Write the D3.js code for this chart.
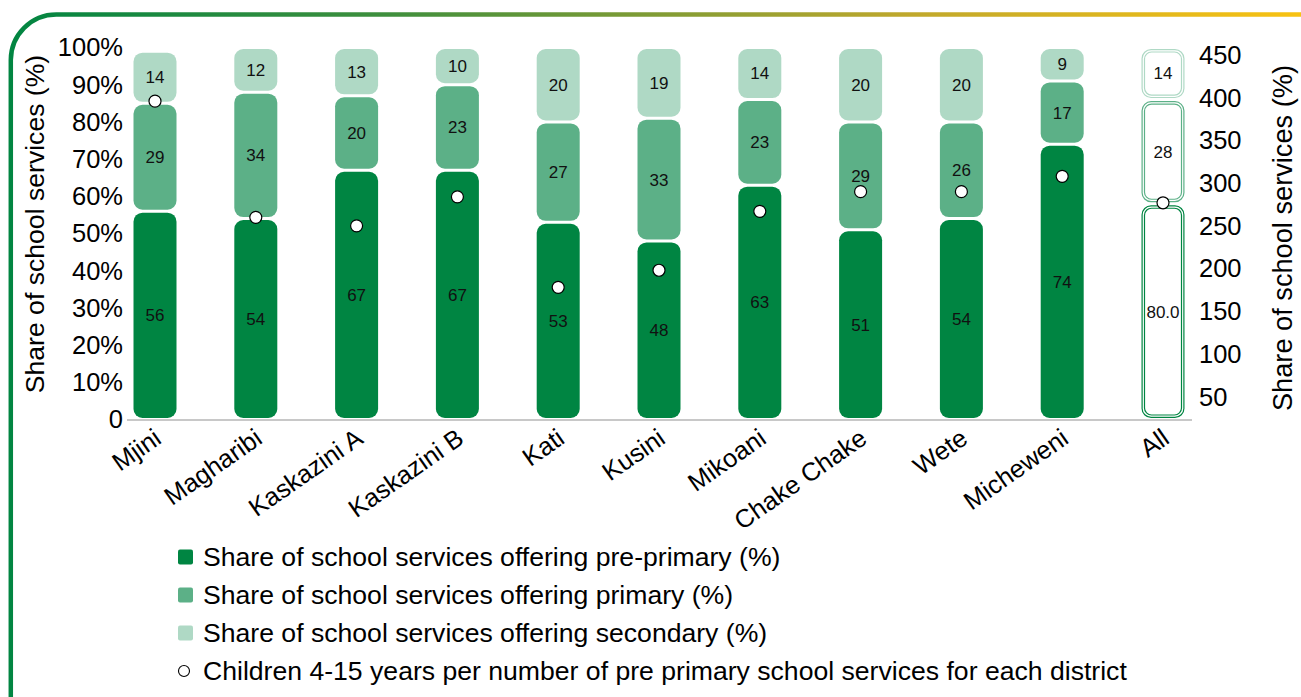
<!DOCTYPE html>
<html>
<head>
<meta charset="utf-8">
<script src="https://cdn.jsdelivr.net/npm/d3@7"></script>
<style>
  html, body { margin: 0; padding: 0; background: #fff; }
  svg { display: block; font-family: "Liberation Sans", Arial, sans-serif; }
</style>
</head>
<body>
<svg id="chart" width="1301" height="697"></svg>
<script>
// Districts along the x axis
const districts = ["Mjini", "Magharibi", "Kaskazini A", "Kaskazini B", "Kati",
                   "Kusini", "Mikoani", "Chake Chake", "Wete", "Micheweni"];

// Share of school services (%) per district
const prePrimary = [56, 54, 67, 67, 53, 48, 63, 51, 54, 74];
const primary    = [29, 34, 20, 23, 27, 33, 23, 29, 26, 17];
const secondary  = [14, 12, 13, 10, 20, 19, 14, 20, 20, 9];

// Children 4-15 years per pre-primary school service (right axis)
const childrenPerService = [396, 260, 250, 284, 178, 198, 267, 290, 290, 308];

// The "All" column
const allCategory = "All";
const allShares = [58, 28, 14];
const allLabels = ["80.0", "28", "14"];
const allChildrenPerService = 277;

// Axis ticks
const leftTicks = [0, 10, 20, 30, 40, 50, 60, 70, 80, 90, 100];
const rightTicks = [50, 100, 150, 200, 250, 300, 350, 400, 450];

const seriesNames = [
  "Share of school services offering pre-primary (%)",
  "Share of school services offering primary (%)",
  "Share of school services offering secondary (%)"
];
const dotName = "Children 4-15 years per number of pre primary school services for each district";
const axisTitle = "Share of school services (%)";

const colors = ["#008542", "#5cb087", "#afd9c5"];

const svg = d3.select("#chart");

// ---- decorative frame ----
const defs = svg.append("defs");
const grad = defs.append("linearGradient")
  .attr("id", "frameGrad").attr("gradientUnits", "userSpaceOnUse")
  .attr("x1", 0).attr("y1", 0).attr("x2", 1301).attr("y2", 0);
grad.append("stop").attr("offset", 0).attr("stop-color", "#008542");
grad.append("stop").attr("offset", 0.3).attr("stop-color", "#3f8f3d");
grad.append("stop").attr("offset", 0.7).attr("stop-color", "#c0a82c");
grad.append("stop").attr("offset", 1).attr("stop-color", "#f8c212");

svg.append("path")
  .attr("d", "M10.8,700 L10.8,60 A45.5,45.5 0 0 1 56.3,14.5 L1305,14.5")
  .attr("fill", "none")
  .attr("stroke", "url(#frameGrad)")
  .attr("stroke-width", 4.5);

// ---- scales ----
const categories = districts.concat([allCategory]);
const x = d3.scalePoint().domain(categories).range([104.6, 1213.4]).padding(0.5);
const y = d3.scaleLinear().domain([0, 100]).range([419.5, 47.5]);
const yRight = d3.scaleLinear().domain([23.3, 458.8]).range([419.5, 47.5]);
const barW = 43;
const inset = 1.5;

// ---- baseline ----
svg.append("line")
  .attr("x1", 127).attr("x2", 1192)
  .attr("y1", 420).attr("y2", 420)
  .attr("stroke", "#c8c8c8").attr("stroke-width", 2);

// ---- stacked district bars ----
const stacked = districts.map((d, i) => {
  const vals = [prePrimary[i], primary[i], secondary[i]];
  let base = 0;
  return vals.map((v, k) => {
    const seg = { district: d, k, v, y0: base, y1: base + v };
    base += v;
    return seg;
  });
}).flat();

const bars = svg.append("g");
bars.selectAll("rect").data(stacked).join("rect")
  .attr("x", d => x(d.district) - barW / 2)
  .attr("width", barW)
  .attr("y", d => y(d.y1) + inset)
  .attr("height", d => y(d.y0) - y(d.y1) - 2 * inset)
  .attr("rx", 9).attr("ry", 9)
  .attr("fill", d => colors[d.k]);

bars.selectAll("text").data(stacked).join("text")
  .attr("x", d => x(d.district))
  .attr("y", d => (y(d.y0) + y(d.y1)) / 2)
  .attr("dy", "0.35em")
  .attr("text-anchor", "middle")
  .attr("font-size", 17)
  .attr("fill", "#111")
  .text(d => d.v);

// ---- "All" column: outlined segments ----
let allBase = 0;
const allSegs = allShares.map((v, k) => {
  const s = { k, v, label: allLabels[k], y0: allBase, y1: allBase + v };
  allBase += v;
  return s;
});
const allG = svg.append("g");
allSegs.forEach(s => {
  const top = y(s.y1) + inset, h = y(s.y0) - y(s.y1) - 2 * inset;
  const x0 = x(allCategory) - barW / 2;
  allG.append("rect")
    .attr("x", x0 + 0.6).attr("y", top + 0.6)
    .attr("width", barW - 1.2).attr("height", h - 1.2)
    .attr("rx", 9).attr("fill", "#fff")
    .attr("stroke", colors[s.k]).attr("stroke-width", 1.2);
  allG.append("rect")
    .attr("x", x0 + 3).attr("y", top + 3)
    .attr("width", barW - 6).attr("height", h - 6)
    .attr("rx", 7).attr("fill", "none")
    .attr("stroke", colors[s.k]).attr("stroke-width", 1.2);
  allG.append("text")
    .attr("x", x(allCategory))
    .attr("y", (y(s.y0) + y(s.y1)) / 2)
    .attr("dy", "0.35em")
    .attr("text-anchor", "middle")
    .attr("font-size", 17)
    .attr("fill", "#111")
    .text(s.label);
});

// ---- dots on the right axis ----
const dots = districts.map((d, i) => ({ c: d, v: childrenPerService[i] }))
  .concat([{ c: allCategory, v: allChildrenPerService }]);
svg.append("g").selectAll("circle").data(dots).join("circle")
  .attr("cx", d => x(d.c))
  .attr("cy", d => yRight(d.v))
  .attr("r", 6)
  .attr("fill", "#fff")
  .attr("stroke", "#000")
  .attr("stroke-width", 1.2);

// ---- left axis ----
svg.append("g").selectAll("text").data(leftTicks).join("text")
  .attr("x", 123).attr("y", d => y(d))
  .attr("dy", "0.35em")
  .attr("text-anchor", "end")
  .attr("font-size", 25.5)
  .attr("fill", "#000")
  .text(d => d === 0 ? "0" : d + "%");

// ---- right axis ----
svg.append("g").selectAll("text").data(rightTicks).join("text")
  .attr("x", 1199).attr("y", d => yRight(d))
  .attr("dy", "0.35em")
  .attr("text-anchor", "start")
  .attr("font-size", 25.5)
  .attr("fill", "#000")
  .text(d => d);

// ---- axis titles ----
svg.append("text")
  .attr("transform", "translate(35,224) rotate(-90)")
  .attr("dy", "0.35em")
  .attr("text-anchor", "middle")
  .attr("font-size", 26.6)
  .text(axisTitle);
svg.append("text")
  .attr("transform", "translate(1282,238) rotate(-90)")
  .attr("dy", "0.35em")
  .attr("text-anchor", "middle")
  .attr("font-size", 27.2)
  .text(axisTitle);

// ---- category labels ----
svg.append("g").selectAll("text").data(categories).join("text")
  .attr("transform", d => `translate(${x(d) + 8},${442}) rotate(-35)`)
  .attr("text-anchor", "end")
  .attr("font-size", 25.5)
  .attr("fill", "#000")
  .text(d => d);

// ---- legend ----
const legend = svg.append("g");
const rowY = [557, 595, 633, 671];
seriesNames.forEach((name, i) => {
  legend.append("rect")
    .attr("x", 178).attr("y", rowY[i] - 7.5)
    .attr("width", 15).attr("height", 15)
    .attr("rx", 2)
    .attr("fill", colors[i]);
  legend.append("text")
    .attr("x", 203).attr("y", rowY[i])
    .attr("dy", "0.35em")
    .attr("font-size", 26.6)
    .text(name);
});
legend.append("circle")
  .attr("cx", 184).attr("cy", rowY[3])
  .attr("r", 5.5)
  .attr("fill", "#fff").attr("stroke", "#000").attr("stroke-width", 1.1);
legend.append("text")
  .attr("x", 203).attr("y", rowY[3])
  .attr("dy", "0.35em")
  .attr("font-size", 26.6)
  .text(dotName);
</script>
</body>
</html>
